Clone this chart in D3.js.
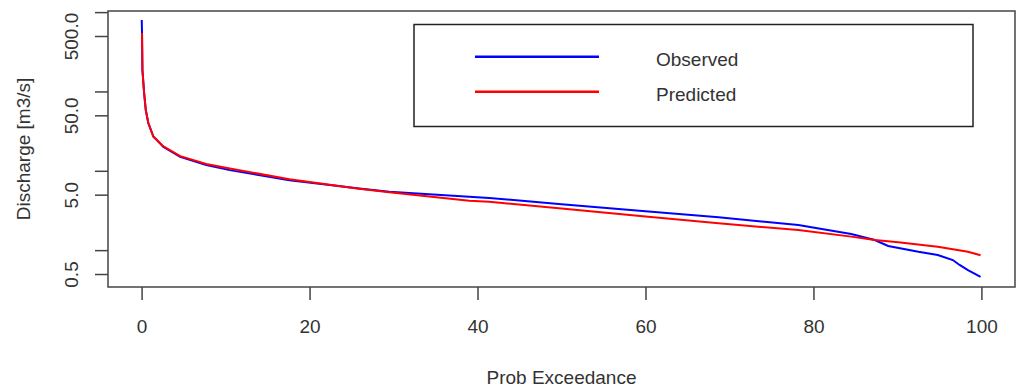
<!DOCTYPE html>
<html>
<head>
<meta charset="utf-8">
<script src="https://cdn.jsdelivr.net/npm/d3@7"></script>
<style>
  body { margin: 0; background: #fff; }
  text { font-family: "Liberation Sans", Arial, sans-serif; fill: #333; }
</style>
</head>
<body>
<div id="chart"></div>
<script>
// ── Data ──────────────────────────────────────────────────────────────────
const obsP = [0.02, 0.05, 0.1, 0.3, 0.5, 0.8, 1.4, 2.6, 4.6, 7.7, 10.5, 17.6, 22.4, 25.9, 29.5,
              39.0, 41.4, 50, 60, 68.7, 78.2, 84.5, 87.3, 88.9, 92.5, 94.8, 96.6, 97.4, 98.4, 99.9];
const obsQ = [796, 546, 186, 96, 58, 40, 27, 20, 15, 11.8, 10.2, 7.6, 6.6, 6.0, 5.45,
              4.7, 4.55, 3.79, 3.10, 2.59, 2.07, 1.60, 1.34, 1.13, 0.955, 0.87, 0.75, 0.65, 0.56, 0.46];

const predP = [0.05, 0.1, 0.3, 0.5, 0.8, 1.4, 2.6, 4.6, 7.7, 10.5, 17.6, 22.4, 25.9, 29.5,
               39.0, 41.4, 50, 60, 68.7, 78.2, 84.5, 87.3, 90.1, 94.8, 98.4, 99.9];
const predQ = [546, 186, 96, 58, 40, 27, 20.3, 15.3, 12.2, 10.7, 7.8, 6.65, 5.95, 5.35,
               4.2, 4.08, 3.35, 2.66, 2.18, 1.79, 1.48, 1.34, 1.26, 1.10, 0.955, 0.86];

const xTicks = [0, 20, 40, 60, 80, 100];
const yTicks = [0.5, 1, 5, 10, 50, 100, 500, 1000];
const yLabelled = [0.5, 5, 50, 500];

const seriesNames  = ["Observed", "Predicted"];
const seriesColors = ["#0000ff", "#ff0000"];

// ── Layout ────────────────────────────────────────────────────────────────
const W = 1017, H = 389;
const box = { left: 108, right: 1015, top: 11, bottom: 287 };

const svg = d3.select("#chart").append("svg")
  .attr("width", W).attr("height", H);

// R-style extended ranges (4% each side)
const x = d3.scaleLinear().domain([-4, 104]).range([box.left, box.right]);
const y = d3.scaleLog().domain([0.343, 1033]).range([box.bottom, box.top]);

// ── Curves ───────────────────────────────────────────────────────────────
const line = d3.line().x(d => x(d[0])).y(d => y(d[1]));
const obsData  = obsP.map((p, i) => [p, obsQ[i]]);
const predData = predP.map((p, i) => [p, predQ[i]]);

svg.append("path").datum(obsData)
  .attr("fill", "none").attr("stroke", seriesColors[0])
  .attr("stroke-width", 2).attr("d", line);
svg.append("path").datum(predData)
  .attr("fill", "none").attr("stroke", seriesColors[1])
  .attr("stroke-width", 2).attr("d", line);

// ── Axes ─────────────────────────────────────────────────────────────────
const axisColor = "#444";

const xAxisG = svg.append("g")
  .attr("transform", `translate(0,${box.bottom})`)
  .call(d3.axisBottom(x).tickValues(xTicks).tickSize(13).tickFormat(d3.format("d")));
xAxisG.select("path.domain").remove();
xAxisG.selectAll("line").attr("stroke", axisColor).attr("stroke-width", 1.5);
xAxisG.selectAll("text")
  .attr("y", 39).attr("dy", "0.35em")
  .style("font-size", "19px").attr("fill", "#333");

const yAxisG = svg.append("g")
  .attr("transform", `translate(${box.left},0)`)
  .call(d3.axisLeft(y).tickValues(yTicks).tickSize(13)
    .tickFormat(d => yLabelled.includes(d) ? d3.format(".1f")(d) : ""));
yAxisG.select("path.domain").remove();
yAxisG.selectAll("line").attr("stroke", axisColor).attr("stroke-width", 1.5);
yAxisG.selectAll("text")
  .attr("x", 0).attr("y", -36.5).attr("dy", "0.35em")
  .attr("transform", "rotate(-90)")
  .attr("text-anchor", "middle")
  .style("font-size", "19px").attr("fill", "#333");

// plot frame
svg.append("rect")
  .attr("x", box.left).attr("y", box.top)
  .attr("width", box.right - box.left).attr("height", box.bottom - box.top)
  .attr("fill", "none").attr("stroke", axisColor).attr("stroke-width", 1.5);

// axis titles
svg.append("text")
  .attr("x", (box.left + box.right) / 2).attr("y", 377).attr("dy", "0.35em")
  .attr("text-anchor", "middle").style("font-size", "19px")
  .text("Prob Exceedance");
svg.append("text")
  .attr("transform", `translate(23,${(box.top + box.bottom) / 2}) rotate(-90)`)
  .attr("dy", "0.35em")
  .attr("text-anchor", "middle").style("font-size", "19px")
  .text("Discharge [m3/s]");

// ── Legend ───────────────────────────────────────────────────────────────
const legend = svg.append("g");
legend.append("rect")
  .attr("x", 414).attr("y", 24.5).attr("width", 559).attr("height", 102)
  .attr("fill", "#fff").attr("stroke", "#222").attr("stroke-width", 1.5);

seriesNames.forEach((name, i) => {
  const ly = 56.7 + i * 35;
  legend.append("line")
    .attr("x1", 475).attr("x2", 599).attr("y1", ly).attr("y2", ly)
    .attr("stroke", seriesColors[i]).attr("stroke-width", 2.5);
  legend.append("text")
    .attr("x", 656).attr("y", ly + 3).attr("dy", "0.35em")
    .style("font-size", "19px")
    .text(name);
});
</script>
</body>
</html>
